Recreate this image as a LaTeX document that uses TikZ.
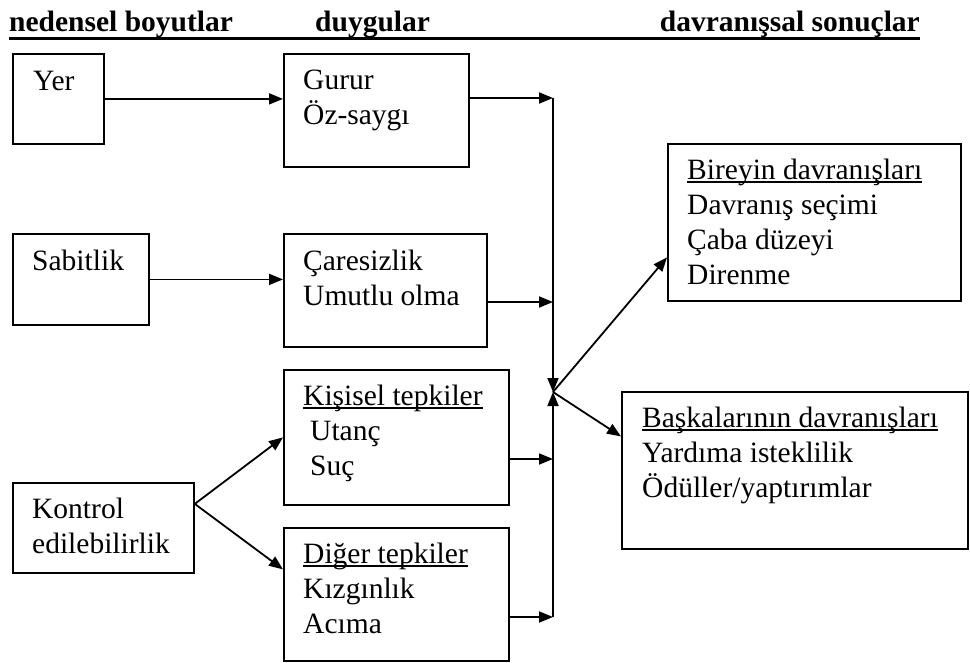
\documentclass[tikz,border=0pt]{standalone}
\usepackage{fontspec}
\setmainfont{Liberation Serif}
\usetikzlibrary{arrows.meta}
\newcommand{\ulw}[1]{\setbox0\hbox{#1}\rlap{\rule[-4pt]{\wd0}{1.8pt}}\box0}
\newcommand{\rows}[1]{\begin{tabular}[t]{@{}l@{}}#1\end{tabular}}

\begin{document}
\begin{tikzpicture}[x=1pt, y=-1pt,
	box/.style={draw, line width=1.8pt, anchor=north west, inner sep=0pt},
	txt/.style={anchor=base west, inner sep=0pt, font=\fontsize{29.5}{35}\selectfont},
	head/.style={anchor=base west, inner sep=0pt, font=\fontsize{29.5}{35}\selectfont\bfseries},
	arr/.style={line width=1.8pt, -{Triangle[length=14pt, width=11pt]}}]
			%%%%% START %%%%%
			\useasboundingbox (0,0) rectangle (970,662);
			
			\node[head] (h1) at (9,31) {nedensel boyutlar};
			\node[head] (h2) at (315,31) {duygular};
			\node[head, anchor=base east] (h3) at (920,31) {davranışsal sonuçlar};
			\draw[line width=3pt] ([yshift=-7pt]h1.base west) -- ([yshift=-7pt]h3.base east);
			
			\node[box, minimum width=91, minimum height=90] (yer) at (12,53) {};
			\node[box, minimum width=185, minimum height=113] (gurur) at (283,53) {};
			\node[box, minimum width=136, minimum height=91] (sabit) at (12,233) {};
			\node[box, minimum width=203, minimum height=113] (care) at (283,233) {};
			\node[box, minimum width=225, minimum height=135] (kisi) at (283,369) {};
			\node[box, minimum width=225, minimum height=133] (diger) at (283,527) {};
			\node[box, minimum width=181, minimum height=90] (kont) at (12,482) {};
			\node[box, minimum width=293, minimum height=157] (birey) at (667,143) {};
			\node[box, minimum width=346, minimum height=157] (baska) at (621,391) {};
			
			\node[txt] (yer-t) at ([shift={(21,37)}]yer.north west) {Yer};
			\node[txt] (gurur-t) at ([shift={(20,36)}]gurur.north west) {\rows{Gurur\\Öz-saygı}};
			\node[txt] (sabit-t) at ([shift={(20,37)}]sabit.north west) {Sabitlik};
			\node[txt] (care-t) at ([shift={(20,37)}]care.north west) {\rows{Çaresizlik\\Umutlu olma}};
			\node[txt] (kisi-t) at ([shift={(20,36)}]kisi.north west) {\rows{\ulw{Kişisel tepkiler}\\\hspace*{7pt}Utanç\\\hspace*{7pt}Suç}};
			\node[txt] (diger-t) at ([shift={(20,36)}]diger.north west) {\rows{\ulw{Diğer tepkiler}\\Kızgınlık\\Acıma}};
			\node[txt] (kont-t) at ([shift={(20,36)}]kont.north west) {\rows{Kontrol\\edilebilirlik}};
			\node[txt] (birey-t) at ([shift={(20,36)}]birey.north west) {\rows{\ulw{Bireyin davranışları}\\Davranış seçimi\\Çaba düzeyi\\Direnme}};
			\node[txt] (baska-t) at ([shift={(21,36)}]baska.north west) {\rows{\ulw{Başkalarının davranışları}\\Yardıma isteklilik\\Ödüller/yaptırımlar}};
			
			\coordinate (b1) at (553,98);
			\coordinate (b2) at (553,302);
			\coordinate (b3) at (553,459);
			\coordinate (b4) at (553,617);
			\coordinate (j) at (553,392);
			
			\draw[arr] (yer.east) -- (gurur.west |- yer.east);
			\draw[arr] (sabit.east) -- (care.west |- sabit.east);
			\draw[arr] ([yshift=24pt]kont.east) -- (kisi.west);
			\draw[arr] ([yshift=24pt]kont.east) -- ([yshift=25pt]diger.west);
			
			\draw[arr] (gurur.east |- b1) -- (b1);
			\draw[arr] (care.east |- b2) -- (b2);
			\draw[arr] (kisi.east |- b3) -- (b3);
			\draw[arr] (diger.east |- b4) -- (b4);
			\draw[arr] (b1) -- (j);
			\draw[arr] (b4) -- (j);
			
			\draw[arr] (j) -- ([yshift=-35pt]birey.west);
			\draw[arr] (j) -- ([yshift=34pt]baska.west);
			%%%%% END %%%%%
\end{tikzpicture}
\end{document}
